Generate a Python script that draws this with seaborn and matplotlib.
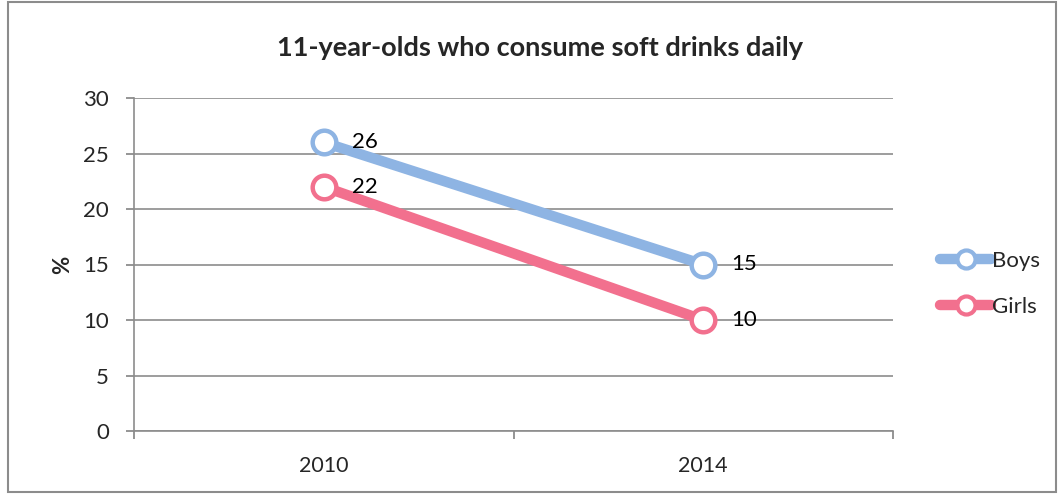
import matplotlib
matplotlib.use("Agg")
import matplotlib.pyplot as plt
import seaborn as sns
import pandas as pd
from matplotlib.patches import Rectangle
from matplotlib.lines import Line2D

years = ["2010", "2014"]
boys = [26, 15]
girls = [22, 10]
series_names = ["Boys", "Girls"]
colors = {"Boys": "#8EB4E3", "Girls": "#F2708E"}

df = pd.DataFrame({
    "year": years * 2,
    "pos": [0, 1] * 2,
    "value": boys + girls,
    "series": ["Boys"] * 2 + ["Girls"] * 2,
})

sns.set_theme(style="white")
plt.rcParams["font.family"] = ["Lato", "DejaVu Sans"]

fig = plt.figure(figsize=(10.62, 4.94), dpi=100)
ax = fig.add_axes([134/1062, 1-431/494, (893-134)/1062, (431-98)/494])

sns.lineplot(data=df, x="pos", y="value", hue="series", palette=colors,
             linewidth=7.5, marker="o", markersize=17, markerfacecolor="white",
             markeredgewidth=3.2, ax=ax, legend=False)
for line in ax.lines:
    line.set_markeredgecolor(line.get_color())
    line.set_solid_capstyle("round")

for vals, name in [(boys, "Boys"), (girls, "Girls")]:
    for i, v in enumerate(vals):
        ax.annotate(str(v), (i, v), xytext=(20, 0), textcoords="offset points",
                    ha="left", va="center", fontsize=16, color="black")

ax.set_xlim(-0.5, 1.5)
ax.set_ylim(0, 30)
ax.set_yticks(range(0, 31, 5))
ax.set_xticks([-0.5, 0.5, 1.5], minor=False)
ax.set_xticklabels([])
ax.set_xticks([0, 1], minor=True)
ax.set_xticklabels(years, minor=True)
ax.tick_params(axis="x", which="minor", length=0, labelsize=15.5, pad=18)
ax.tick_params(axis="x", which="major", length=6, color="#888888", direction="out", bottom=True)
ax.tick_params(axis="y", length=6, color="#888888", direction="out", labelsize=16, pad=12, left=True)
ax.grid(axis="y", color="#8C8C8C", linewidth=1.2)
ax.set_axisbelow(True)
for s in ["top", "right"]:
    ax.spines[s].set_visible(False)
for s in ["left", "bottom"]:
    ax.spines[s].set_color("#8C8C8C")
    ax.spines[s].set_linewidth(1.2)
ax.set_xlabel("")
ax.set_ylabel("%", fontsize=16, fontweight="bold", labelpad=7)

fig.text(540/1062, 1-48/494, "11-year-olds who consume soft drinks daily",
         ha="center", va="center", fontsize=19.5, fontweight="bold")

handles = [Line2D([0], [0], color=colors[n], linewidth=7.5, marker="o", markersize=13,
                  markerfacecolor="white", markeredgecolor=colors[n], markeredgewidth=3.0,
                  solid_capstyle="round")
           for n in series_names]
fig.legend(handles, series_names, loc="center left", bbox_to_anchor=(929/1062, 1-284/494),
           frameon=False, fontsize=16, handlelength=2.3, handletextpad=0.05, labelspacing=1.15,
           borderpad=0)

fig.patches.append(Rectangle((8/1062, 2/494), (1056-8)/1062, (492-2)/494,
                             transform=fig.transFigure, fill=False,
                             edgecolor="#8C8C8C", linewidth=1.5))

fig.savefig("out.png", dpi=100)
